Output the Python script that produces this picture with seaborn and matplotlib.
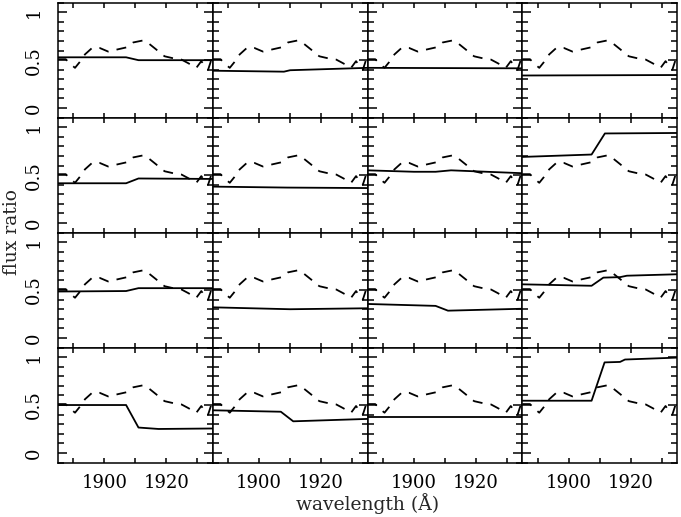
import numpy as np
import pandas as pd
import seaborn as sb
import matplotlib
matplotlib.use("Agg")
import matplotlib.pyplot as plt
import matplotlib.ticker as mticker

# reference spectrum (dashed), same in every panel
spec_wl = [1885.0, 1887.5, 1889.0, 1890.5, 1892.0, 1893.7, 1896.1, 1898.5,
           1901.2, 1903.9, 1907.2, 1909.3, 1912.5, 1914.1, 1916.8, 1918.5,
           1919.5, 1922.2, 1924.9, 1927.0, 1929.7, 1931.3, 1932.4, 1933.5,
           1935.0]
spec_flux = [0.51, 0.51, 0.46, 0.42, 0.48, 0.56, 0.63, 0.627,
             0.59, 0.61, 0.634, 0.685, 0.706, 0.68, 0.61, 0.56,
             0.54, 0.52, 0.506, 0.47, 0.42, 0.49, 0.44, 0.40,
             0.55]

# flux ratio per panel (solid), row by row
ratio_wl = [
    [1885, 1907, 1911, 1935],
    [1885, 1908, 1910, 1935],
    [1885, 1935],
    [1885, 1935],
    [1885, 1907, 1911, 1935],
    [1885, 1909, 1935],
    [1885, 1900, 1907, 1912, 1935],
    [1885, 1907.4, 1911.7, 1935],
    [1885, 1907, 1911, 1935],
    [1885, 1910, 1935],
    [1885, 1907, 1911, 1935],
    [1885, 1907.4, 1911.2, 1916.6, 1918.8, 1935],
    [1885, 1907, 1911, 1917.5, 1935],
    [1885, 1907, 1911, 1935],
    [1885, 1935],
    [1885, 1907.4, 1911.6, 1916.6, 1918.2, 1935],
]
ratio_val = [
    [0.53, 0.53, 0.50, 0.50],
    [0.39, 0.38, 0.395, 0.42],
    [0.42, 0.415],
    [0.34, 0.345],
    [0.415, 0.415, 0.465, 0.46],
    [0.38, 0.37, 0.365],
    [0.55, 0.535, 0.535, 0.55, 0.52],
    [0.69, 0.715, 0.935, 0.94],
    [0.485, 0.49, 0.52, 0.52],
    [0.32, 0.30, 0.31],
    [0.355, 0.335, 0.285, 0.305],
    [0.56, 0.545, 0.63, 0.635, 0.65, 0.665],
    [0.50, 0.50, 0.265, 0.25, 0.255],
    [0.445, 0.43, 0.33, 0.355],
    [0.38, 0.38],
    [0.545, 0.545, 0.945, 0.95, 0.975, 0.995],
]

sb.set_style("ticks")
plt.rcParams["font.family"] = ["DejaVu Serif"]

fig, axes = plt.subplots(4, 4, sharex=True, sharey=True,
                         figsize=(6.81, 5.17), dpi=100)
fig.subplots_adjust(left=58 / 681, right=677 / 681,
                    top=1 - 2.7 / 517, bottom=1 - 462.5 / 517,
                    wspace=0, hspace=0)

spec = pd.DataFrame({"wl": spec_wl, "flux": spec_flux})

for i, ax in enumerate(axes.flat):
    panel = pd.DataFrame({"wl": ratio_wl[i], "ratio": ratio_val[i]})
    sb.lineplot(data=spec, x="wl", y="flux", ax=ax, color="black",
                linewidth=1.3, dashes=False, errorbar=None,
                linestyle=(0, (5.5, 4.5)))
    sb.lineplot(data=panel, x="wl", y="ratio", ax=ax, color="black",
                linewidth=1.3, errorbar=None)
    ax.set_xlim(1885, 1935)
    ax.set_ylim(-0.1, 1.1)
    ax.set_xlabel("")
    ax.set_ylabel("")
    ax.xaxis.set_major_locator(mticker.FixedLocator([1890, 1900, 1910, 1920, 1930]))
    ax.xaxis.set_major_formatter(mticker.FuncFormatter(
        lambda v, _: f"{v:.0f}" if v in (1900, 1920) else ""))
    ax.yaxis.set_major_locator(mticker.FixedLocator([0, 0.5, 1]))
    ax.yaxis.set_minor_locator(mticker.MultipleLocator(0.1))
    ax.yaxis.set_major_formatter(mticker.FuncFormatter(lambda v, _: f"{v:g}"))
    ax.tick_params(axis="both", which="both", direction="in",
                   top=True, right=True, width=1.1, colors="black")
    ax.tick_params(axis="x", which="major", length=3.4, pad=8, labelsize=13)
    ax.tick_params(axis="y", which="major", length=6.5, pad=11,
                   labelsize=13, labelrotation=90)
    ax.tick_params(axis="y", which="minor", length=4)
    for lab in ax.get_yticklabels():
        lab.set_va("center")
    for s in ax.spines.values():
        s.set_linewidth(1.1)
        s.set_color("black")

fig.text(368 / 681, 1 - 504 / 517, "wavelength (Å)", ha="center",
         va="center", fontsize=13.5)
fig.text(12 / 681, 1 - 232 / 517, "flux ratio", ha="center", va="center",
         rotation=90, fontsize=13.5)

plt.savefig("out.png", dpi=100)
